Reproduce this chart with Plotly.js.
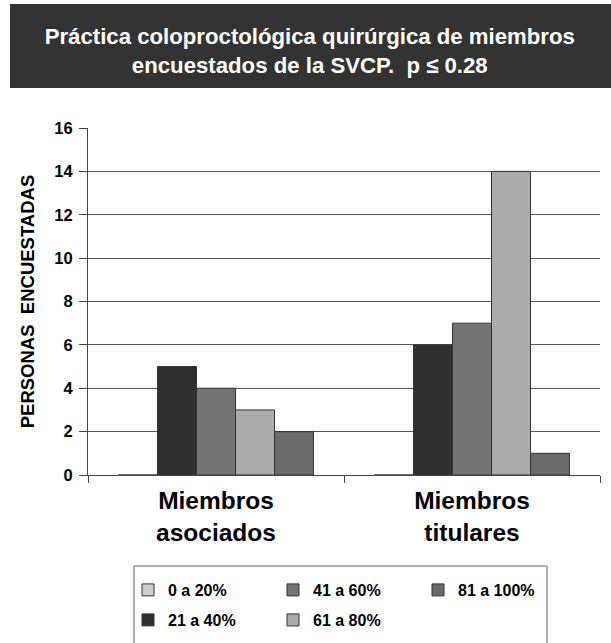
<!DOCTYPE html>
<html>
<head>
<meta charset="utf-8">
<script src="https://cdn.plot.ly/plotly-3.0.1.min.js"></script>
<style>html,body{margin:0;padding:0;background:#fff;}#chart{width:611px;height:643px;}</style>
</head>
<body>
<div id="chart"></div>
<script>
const categories = ["Miembros<br>asociados", "Miembros<br>titulares"];
const seriesNames = ["0 a 20%", "21 a 40%", "41 a 60%", "61 a 80%", "81 a 100%"];
const v0a20 = [0, 0];
const v21a40 = [5, 6];
const v41a60 = [4, 7];
const v61a80 = [3, 14];
const v81a100 = [2, 1];
const yTicks = [0, 2, 4, 6, 8, 10, 12, 14, 16];

const seriesValues = [v0a20, v21a40, v41a60, v61a80, v81a100];
const colors = ["#cdcdcd", "#2f2f2f", "#737373", "#ababab", "#6a6a6a"];
const legendRows = ["legend", "legend2", "legend", "legend2", "legend"];
const FONT = "Liberation Sans, Arial, sans-serif";

const traces = seriesNames.map((name, i) => ({
  type: "bar",
  name: "<b>" + name + "</b>",
  x: categories,
  y: seriesValues[i],
  legend: legendRows[i],
  marker: {color: colors[i], line: {color: "#333333", width: 1}},
  hoverinfo: "x+y+name"
}));

const legendCommon = {
  orientation: "h",
  xref: "container", yref: "container",
  x: 128 / 611, xanchor: "left",
  yanchor: "top",
  borderwidth: 0,
  bgcolor: "rgba(0,0,0,0)",
  font: {family: FONT, size: 16, color: "#000000"},
  entrywidth: 100, entrywidthmode: "pixels",
  traceorder: "normal"
};

const layout = {
  width: 611, height: 643,
  margin: {l: 88, r: 11, t: 128, b: 168},
  paper_bgcolor: "#ffffff",
  plot_bgcolor: "#ffffff",
  font: {family: FONT, color: "#000000"},
  barmode: "group",
  bargap: 0.238,
  bargroupgap: 0,
  title: {
    text: "<b>Práctica coloproctológica quirúrgica de miembros<br>encuestados de la SVCP.  p ≤ 0.28</b>",
    font: {family: FONT, size: 22.2, color: "#ffffff"},
    x: 0.507, xanchor: "center", xref: "container",
    y: 0.932, yanchor: "middle", yref: "container"
  },
  shapes: [
    {
      type: "rect", xref: "paper", yref: "paper", layer: "below",
      x0: -0.1523, x1: 1.03, y0: 1.115, y1: 1.357,
      fillcolor: "#333333", line: {width: 0}
    },
    {
      type: "rect", xref: "paper", yref: "paper", layer: "above",
      x0: (134 - 88) / 512, x1: (547 - 88) / 512,
      y0: (475 - 650) / 347, y1: (475 - 566) / 347,
      fillcolor: "rgba(0,0,0,0)", line: {color: "#666666", width: 1}
    }
  ],
  xaxis: {
    type: "category",
    automargin: false,
    showline: true, linecolor: "#444444", linewidth: 1,
    ticks: "outside", tickson: "boundaries", ticklen: 7, tickcolor: "#444444",
    ticklabelstandoff: 4,
    showgrid: false,
    tickfont: {family: FONT, size: 24.5, color: "#000000"},
    tickprefix: "<b>", ticksuffix: "</b>",
    fixedrange: true
  },
  yaxis: {
    automargin: false,
    range: [0, 16],
    tickvals: yTicks,
    ticktext: yTicks.map(t => "<b>" + t + "</b>"),
    showline: true, linecolor: "#444444", linewidth: 1,
    ticks: "outside", ticklen: 8, tickcolor: "#444444",
    ticklabelstandoff: 3,
    showgrid: true, gridcolor: "#555555", gridwidth: 1,
    zeroline: false,
    tickfont: {family: FONT, size: 16.5, color: "#000000"},
    title: {text: "<b>PERSONAS  ENCUESTADAS</b>", font: {family: FONT, size: 18.5, color: "#000000"}, standoff: 14},
    fixedrange: true
  },
  showlegend: true,
  legend: Object.assign({}, legendCommon, {y: 1 - 573 / 643}),
  legend2: Object.assign({}, legendCommon, {y: 1 - 603 / 643})
};

Plotly.newPlot("chart", traces, layout, {displayModeBar: false, staticPlot: true});
</script>
</body>
</html>
